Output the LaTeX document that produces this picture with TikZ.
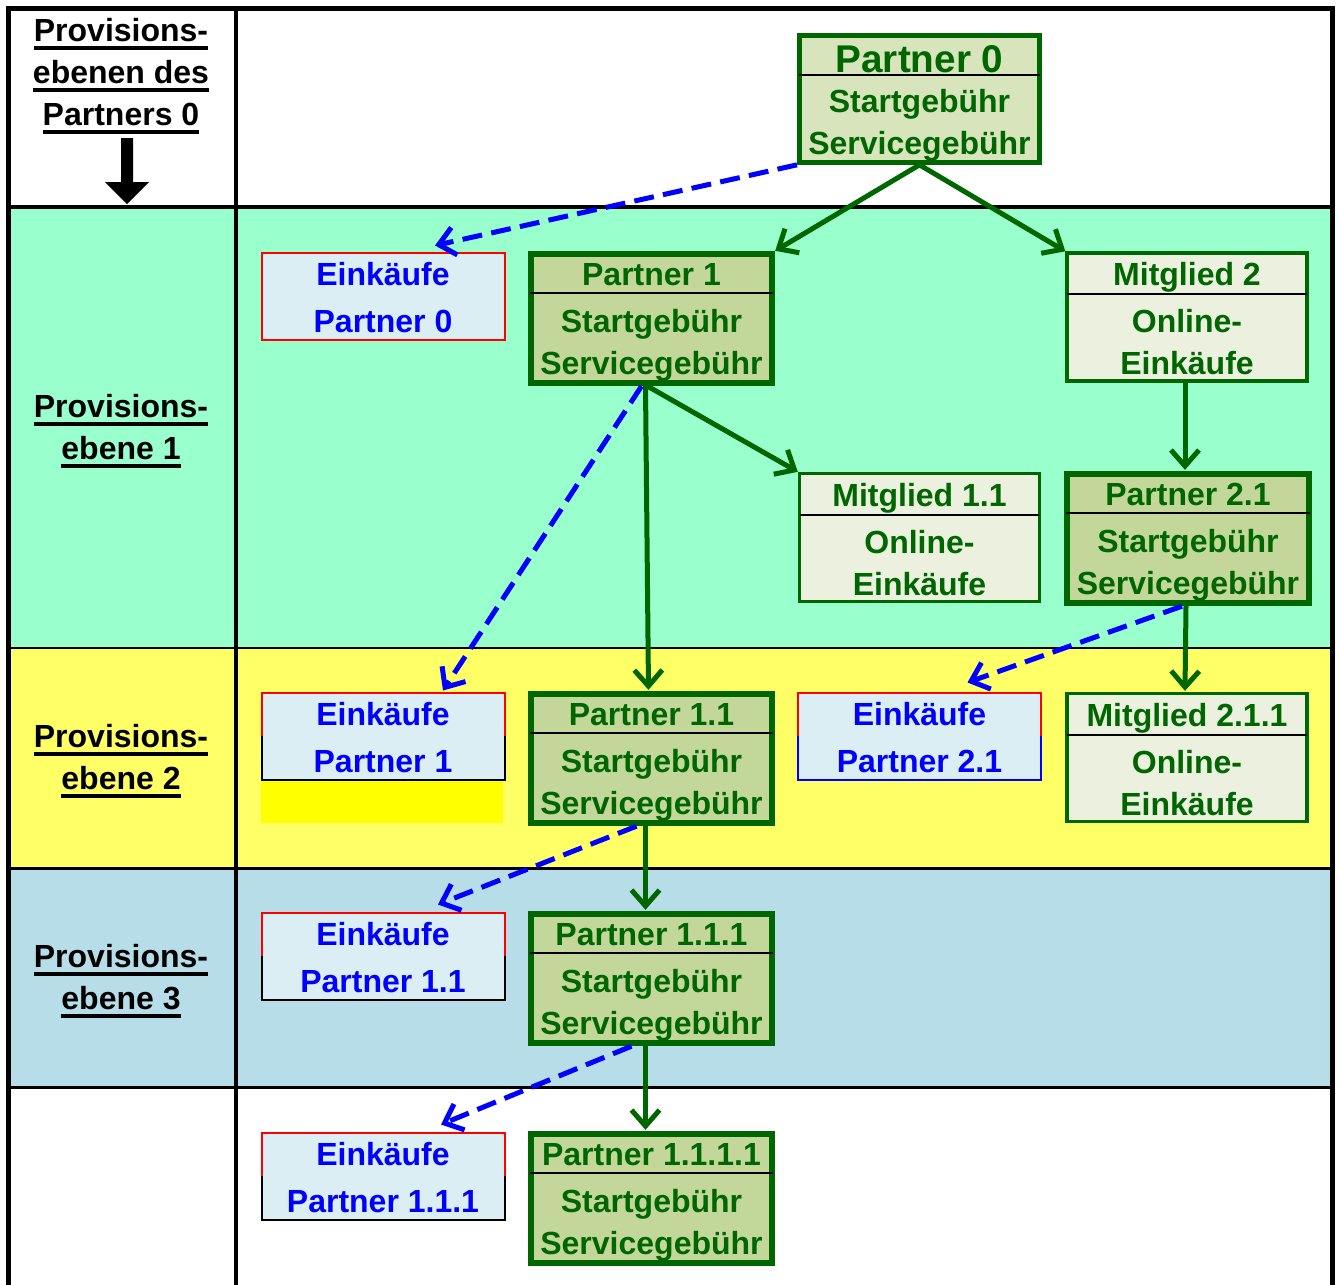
\documentclass[tikz,border=0pt]{standalone}
\usepackage{fontspec}
\setmainfont{Liberation Sans}
\usetikzlibrary{arrows.meta,calc}
\newsavebox{\undlbox}
\newcommand{\undl}[1]{\sbox{\undlbox}{#1}\usebox{\undlbox}\llap{\rule[-6.5pt]{\wd\undlbox}{3pt}}}
\newcommand{\hstrut}{\rule{0pt}{21.7pt}}
\newcommand{\mstrut}{\rule{0pt}{20pt}}
\newcommand{\estrut}{\rule{0pt}{19pt}}

\definecolor{dkgreen}{HTML}{006600}
\definecolor{mint}{HTML}{99FFCC}
\definecolor{lemon}{HTML}{FFFF66}
\definecolor{sky}{HTML}{B7DEE8}
\definecolor{partnerfill}{HTML}{C4D79B}
\definecolor{topfill}{HTML}{D8E4BC}
\definecolor{memberfill}{HTML}{EBF1DE}
\definecolor{buyfill}{HTML}{DAEEF3}
\definecolor{restyellow}{HTML}{FFFF00}

\tikzset{every picture/.style={line width=0.75pt}}
\tikzset{
  boxfont/.style={font=\fontsize{24}{31.5}\selectfont\bfseries},
  pbox/.style={draw=dkgreen, line width=4.5pt, fill=partnerfill, text=dkgreen, align=center, boxfont, inner sep=0pt, minimum width=181pt, minimum height=97pt},
  mbox/.style={draw=dkgreen, line width=2.5pt, fill=memberfill, text=dkgreen, align=center, boxfont, inner sep=0pt, minimum width=180pt, minimum height=96pt},
  ebox/.style={fill=buyfill, text=blue, align=center, boxfont, inner sep=0pt, minimum width=181.5pt, minimum height=64.5pt},
  hdrline/.style={draw=black, line width=1.5pt, shorten <=1.5pt, shorten >=1.5pt},
  flow/.style={draw=dkgreen, line width=3.75pt, -{Straight Barb[length=12pt,width=21pt]}},
  share/.style={draw=blue, line width=3.75pt, dash pattern=on 15pt off 7pt, -{Straight Barb[length=12pt,width=21pt]}},
  lvl/.style={align=center, font=\fontsize{24}{31.5}\selectfont\bfseries},
}

\begin{document}
\begin{tikzpicture}[x=0.75pt,y=0.75pt,yscale=-1,xscale=1]
	\useasboundingbox (0,0) rectangle (1339,1285);

	%Shape: Rectangle [bands]
	\fill [mint] (8,207) rectangle (1332,648) ;
	\fill [lemon] (8,648) rectangle (1332,868) ;
	\fill [sky] (8,868) rectangle (1332,1087) ;
	%Shape: Rectangle [yellow rest]
	\fill [restyellow] (261,780) rectangle (503,823) ;

	%Straight Lines [frame]
	\draw [line width=3.75pt] (8,1295) -- (8,8) -- (1332,8) -- (1332,1295) ;
	\draw [line width=3pt] (236,8) -- (236,1295) ;
	\draw [line width=3pt] (8,207) -- (1332,207) ;
	\draw [line width=2pt] (8,648) -- (1332,648) ;
	\draw [line width=2.25pt] (8,868) -- (1332,868) ;
	\draw [line width=2.25pt] (8,1087) -- (1332,1087) ;

	%Shape: Down Arrow
	\fill (121,138) -- (133,138) -- (133,182) -- (149,182) -- (127,204) -- (105,182) -- (121,182) -- cycle ;

	% Text Node
	\node [lvl] (lbl0) at (121,76) {\undl{Provisions-}\\\undl{ebenen des}\\\undl{Partners 0}};
	% Text Node
	\node [lvl] (lbl1) at (121,431) {\undl{Provisions-}\\\undl{ebene 1}};
	% Text Node
	\node [lvl] (lbl2) at (121,761) {\undl{Provisions-}\\\undl{ebene 2}};
	% Text Node
	\node [lvl] (lbl3) at (121,981) {\undl{Provisions-}\\\undl{ebene 3}};

	%Shape: Partner boxes
	\node [pbox, fill=topfill, line width=3.75pt, minimum width=180pt, minimum height=95pt] (p0) at (919.5,99) {\rule{0pt}{27pt}{\fontsize{29}{31.5}\selectfont Partner 0}\\[-1pt]Startgebühr\\Servicegebühr};
	\node [pbox] (p1) at (651.5,318.5) {\hstrut Partner 1\\[3.75pt]Startgebühr\\Servicegebühr};
	\node [pbox] (p21) at (1188,538.5) {\hstrut Partner 2.1\\[3.75pt]Startgebühr\\Servicegebühr};
	\node [pbox] (p11) at (651.5,758.5) {\hstrut Partner 1.1\\[3.75pt]Startgebühr\\Servicegebühr};
	\node [pbox] (p111) at (651.5,978.5) {\hstrut Partner 1.1.1\\[3.75pt]Startgebühr\\Servicegebühr};
	\node [pbox] (p1111) at (651.5,1198.5) {\hstrut Partner 1.1.1.1\\[3.75pt]Startgebühr\\Servicegebühr};
	%Shape: Member boxes
	\node [mbox] (m2) at (1187,317) {\mstrut Mitglied 2\\[3.75pt]Online-\\Einkäufe};
	\node [mbox] (m11) at (919.5,537.5) {\mstrut Mitglied 1.1\\[3.75pt]Online-\\Einkäufe};
	\node [mbox] (m211) at (1187,757.5) {\mstrut Mitglied 2.1.1\\[3.75pt]Online-\\Einkäufe};
	%Shape: Purchase boxes
	\node [ebox] (e0) at (383,296) {\estrut Einkäufe\\[3.75pt]Partner 0};
	\node [ebox] (e1) at (383,736) {\estrut Einkäufe\\[3.75pt]Partner 1};
	\node [ebox] (e21) at (919.5,736) {\estrut Einkäufe\\[3.75pt]Partner 2.1};
	\node [ebox] (e11) at (383,956) {\estrut Einkäufe\\[3.75pt]Partner 1.1};
	\node [ebox] (e111) at (383,1176) {\estrut Einkäufe\\[3.75pt]Partner 1.1.1};

	%Straight Lines [purchase borders]
	\draw [red, line width=1.5pt] (e0.north west) rectangle (e0.south east) ;
	\draw [red, line width=1.5pt] (e1.west) |- (e1.north east) -- (e1.east) ;
	\draw [black, line width=1.5pt] (e1.west) |- (e1.south east) -- (e1.east) ;
	\draw [red, line width=1.5pt] (e21.west) |- (e21.north east) -- (e21.east) ;
	\draw [blue, line width=1.5pt] (e21.west) |- (e21.south east) -- (e21.east) ;
	\draw [red, line width=1.5pt] (e11.west) |- (e11.north east) -- (e11.east) ;
	\draw [black, line width=1.5pt] (e11.west) |- (e11.south east) -- (e11.east) ;
	\draw [red, line width=1.5pt] (e111.west) |- (e111.north east) -- (e111.east) ;
	\draw [black, line width=1.5pt] (e111.west) |- (e111.south east) -- (e111.east) ;

	%Straight Lines [header lines]
	\draw [hdrline] ($(p0.north west)+(0,42)$) -- ($(p0.north east)+(0,42)$) ;
	\draw [hdrline] ($(p1.north west)+(0,42)$) -- ($(p1.north east)+(0,42)$) ;
	\draw [hdrline] ($(p21.north west)+(0,42)$) -- ($(p21.north east)+(0,42)$) ;
	\draw [hdrline] ($(p11.north west)+(0,42)$) -- ($(p11.north east)+(0,42)$) ;
	\draw [hdrline] ($(p111.north west)+(0,42)$) -- ($(p111.north east)+(0,42)$) ;
	\draw [hdrline] ($(p1111.north west)+(0,42)$) -- ($(p1111.north east)+(0,42)$) ;
	\draw [hdrline] ($(m2.north west)+(0,43)$) -- ($(m2.north east)+(0,43)$) ;
	\draw [hdrline] ($(m11.north west)+(0,43)$) -- ($(m11.north east)+(0,43)$) ;
	\draw [hdrline] ($(m211.north west)+(0,43)$) -- ($(m211.north east)+(0,43)$) ;

	%Straight Lines [connectors]
	\draw [flow] (p0.south) -- (p1.north east) ;
	\draw [flow] (p0.south) -- (m2.north west) ;
	\draw [share] (p0.south west) -- ($(e0.north)+(52,-7)$) ;
	\draw [flow] ($(p1.south)+(-6,0)$) -- ($(p11.north)+(-3,-1)$) ;
	\draw [flow] ($(p1.south)+(-4,0)$) -- (m11.north west) ;
	\draw [share] ($(p1.south)+(-10,0)$) -- ($(e1.north)+(60,-2)$) ;
	\draw [flow] ($(m2.south)+(-2,0)$) -- ($(p21.north)+(-3,-1)$) ;
	\draw [flow] ($(p21.south)+(-2,0)$) -- ($(m211.north)+(-2,-1)$) ;
	\draw [share] ($(p21.south)+(-6,0)$) -- ($(e21.north)+(48,-10)$) ;
	\draw [flow] ($(p11.south)+(-6,0)$) -- ($(p111.north)+(-6,-1)$) ;
	\draw [share] ($(p11.south)+(-15,0)$) -- ($(e11.north)+(55,-8)$) ;
	\draw [flow] ($(p111.south)+(-6,0)$) -- ($(p1111.north)+(-6,-1)$) ;
	\draw [share] ($(p111.south)+(-20,0)$) -- ($(e111.north)+(58,-8)$) ;

\end{tikzpicture}
\end{document}
